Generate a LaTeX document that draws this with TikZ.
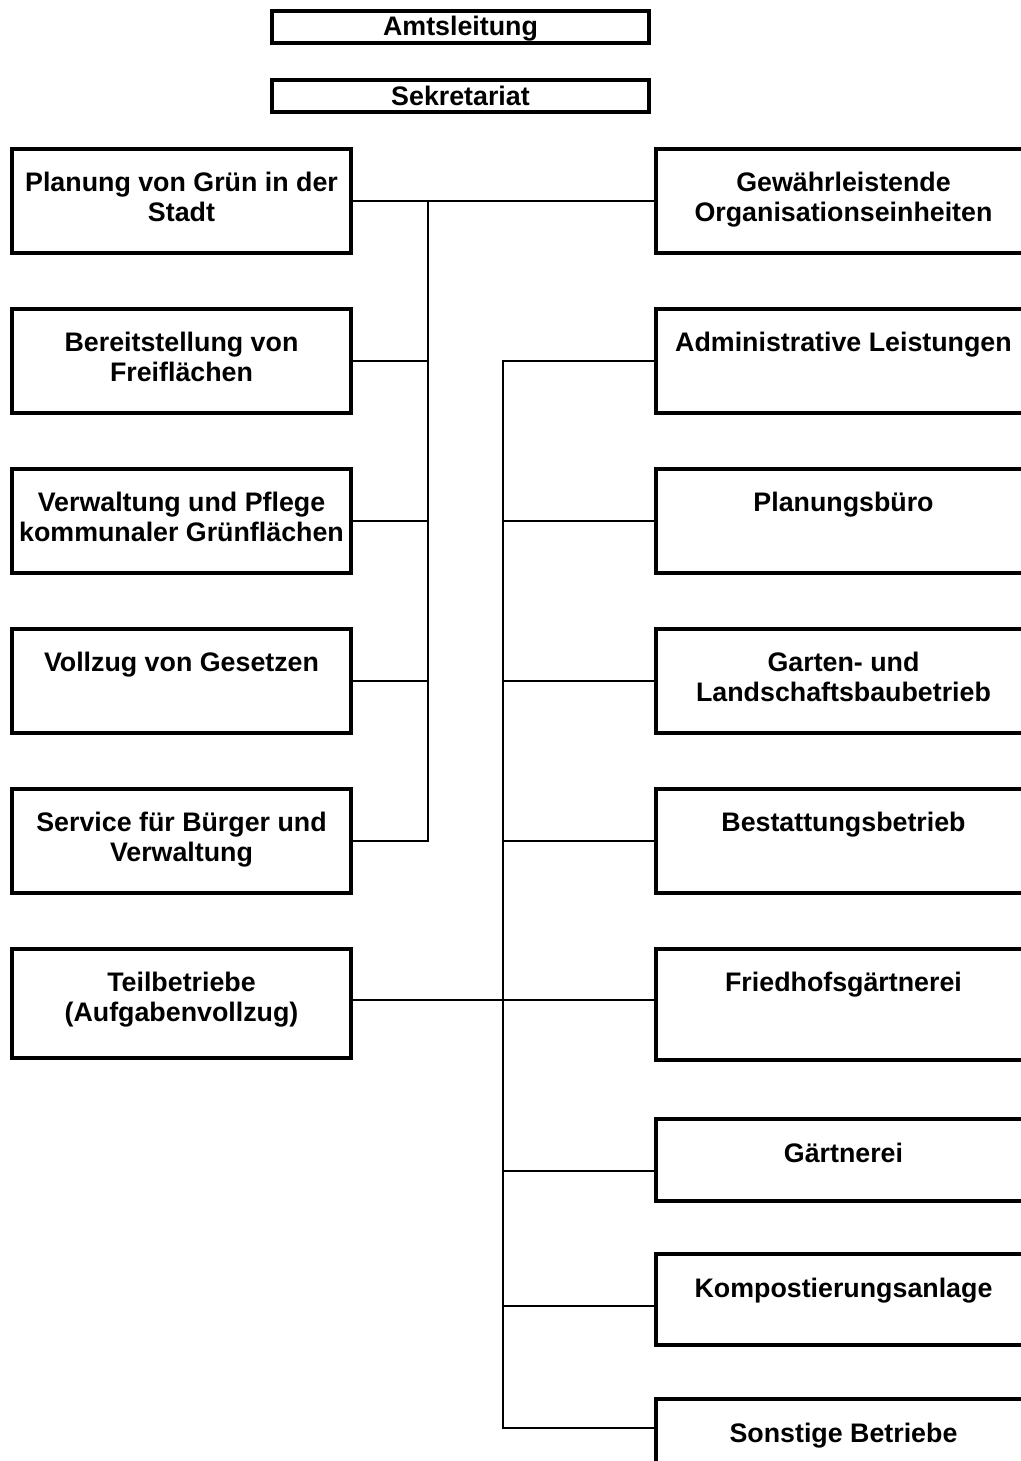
\documentclass[tikz,border=0pt]{standalone}
\usepackage{fontspec}
\setmainfont{Liberation Sans}
\usetikzlibrary{calc}
\begin{document}
\begin{tikzpicture}[x=0.5pt,y=-0.5pt,
  box/.style={draw, line width=2.1pt, rectangle, inner sep=0pt, outer sep=0pt},
  lbox/.style={box, minimum width=169.5pt, minimum height=52pt},
  rbox/.style={box, minimum width=187.5pt, minimum height=52pt},
  tbox/.style={box, minimum width=188.5pt, minimum height=16pt},
  txt/.style={font=\bfseries\fontsize{13.4}{15}\selectfont, align=center, inner sep=0pt, anchor=north},
  conn/.style={line width=1pt}]
\useasboundingbox (0,0) rectangle (1021,1461);
\clip (0,0) rectangle (1021,1461);
% top boxes
\node[tbox] (amt) at (460.5,27) {};
\node[tbox] (sek) at (460.5,96) {};
\node[font=\bfseries\fontsize{13.4}{15}\selectfont, inner sep=0pt, anchor=base] (tamt) at (460.5,36) {Amtsleitung};
\node[font=\bfseries\fontsize{13.4}{15}\selectfont, inner sep=0pt, anchor=base] (tsek) at (460.5,105) {Sekretariat};
% left boxes
\node[lbox] (L1) at (181.5,201) {};
\node[lbox] (L2) at (181.5,361) {};
\node[lbox] (L3) at (181.5,521) {};
\node[lbox] (L4) at (181.5,681) {};
\node[lbox] (L5) at (181.5,841) {};
\node[lbox, minimum height=54.5pt] (L6) at (181.5,1003.5) {};
% right boxes
\node[rbox] (R1) at (843.5,201) {};
\node[rbox] (R2) at (843.5,361) {};
\node[rbox] (R3) at (843.5,521) {};
\node[rbox] (R4) at (843.5,681) {};
\node[rbox] (R5) at (843.5,841) {};
\node[rbox, minimum height=55.5pt] (R6) at (843.5,1004.5) {};
\node[rbox, minimum height=41pt] (R7) at (843.5,1160) {};
\node[rbox, minimum height=45.5pt] (R8) at (843.5,1299.5) {};
\node[rbox, minimum height=54.5pt] (R9) at (843.5,1453.5) {};
% texts
\node[txt] (tL1) at ($(L1.north)+(0,21)$) {\strut Planung von Grün in der\\Stadt};
\node[txt] (tL2) at ($(L2.north)+(0,21)$) {\strut Bereitstellung von\\Freiflächen};
\node[txt] (tL3) at ($(L3.north)+(0,21)$) {\strut Verwaltung und Pflege\\kommunaler Grünflächen};
\node[txt] (tL4) at ($(L4.north)+(0,21)$) {\strut Vollzug von Gesetzen};
\node[txt] (tL5) at ($(L5.north)+(0,21)$) {\strut Service für Bürger und\\Verwaltung};
\node[txt] (tL6) at ($(L6.north)+(0,21)$) {\strut Teilbetriebe\\(Aufgabenvollzug)};
\node[txt] (tR1) at ($(R1.north)+(0,21)$) {\strut Gewährleistende\\Organisationseinheiten};
\node[txt] (tR2) at ($(R2.north)+(0,21)$) {\strut Administrative Leistungen};
\node[txt] (tR3) at ($(R3.north)+(0,21)$) {\strut Planungsbüro};
\node[txt] (tR4) at ($(R4.north)+(0,21)$) {\strut Garten- und\\Landschaftsbaubetrieb};
\node[txt] (tR5) at ($(R5.north)+(0,21)$) {\strut Bestattungsbetrieb};
\node[txt] (tR6) at ($(R6.north)+(0,21)$) {\strut Friedhofsgärtnerei};
\node[txt] (tR7) at ($(R7.north)+(0,22)$) {\strut Gärtnerei};
\node[txt] (tR8) at ($(R8.north)+(0,22)$) {\strut Kompostierungsanlage};
\node[txt] (tR9) at ($(R9.north)+(0,22)$) {\strut Sonstige Betriebe};
% connectors
\coordinate (tl) at (428,201);
\coordinate (tr) at (503,361);
\coordinate (j6) at (503,1000);
\coordinate (j7) at (503,1171);
\coordinate (j8) at (503,1306);
\coordinate (j9) at (503,1428);
\draw[conn] (L1.east) -- (R1.west);
\draw[conn] (tl) -- (tl |- L5.east) -- (L5.east);
\draw[conn] (L2.east) -- (tl |- L2.east);
\draw[conn] (L3.east) -- (tl |- L3.east);
\draw[conn] (L4.east) -- (tl |- L4.east);
\draw[conn] (R2.west) -- (tr) -- (j9) -- (j9 -| R9.west);
\draw[conn] (R3.west) -- (tr |- R3.west);
\draw[conn] (R4.west) -- (tr |- R4.west);
\draw[conn] (R5.west) -- (tr |- R5.west);
\draw[conn] (j6 -| L6.east) -- (j6 -| R6.west);
\draw[conn] (j7) -- (j7 -| R7.west);
\draw[conn] (j8) -- (j8 -| R8.west);
\end{tikzpicture}
\end{document}
